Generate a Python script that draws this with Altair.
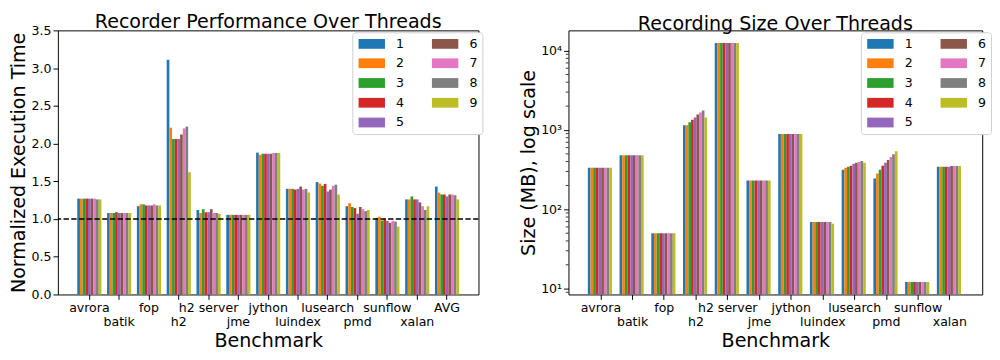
import altair as alt
import pandas as pd

threads = ["1", "2", "3", "4", "5", "6", "7", "8", "9"]
colors = ["#1f77b4", "#ff7f0e", "#2ca02c", "#d62728", "#9467bd",
          "#8c564b", "#e377c2", "#7f7f7f", "#bcbd22"]

bench_time = ["avrora", "batik", "fop", "h2", "h2 server", "jme", "jython",
              "luindex", "lusearch", "pmd", "sunflow", "xalan", "AVG"]
bench_size = ["avrora", "batik", "fop", "h2", "h2 server", "jme", "jython",
              "luindex", "lusearch", "pmd", "sunflow", "xalan"]

# Normalized execution time, threads 1..9
time_avrora = [1.27, 1.27, 1.27, 1.27, 1.27, 1.27, 1.27, 1.26, 1.26]
time_batik = [1.08, 1.08, 1.08, 1.09, 1.08, 1.08, 1.08, 1.08, 1.08]
time_fop = [1.17, 1.195, 1.195, 1.18, 1.18, 1.18, 1.195, 1.18, 1.18]
time_h2 = [3.11, 2.21, 2.06, 2.06, 2.06, 2.12, 2.20, 2.225, 1.62]
time_h2server = [1.12, 1.08, 1.13, 1.09, 1.09, 1.13, 1.08, 1.08, 1.07]
time_jme = [1.055, 1.055, 1.055, 1.055, 1.055, 1.055, 1.055, 1.055, 1.055]
time_jython = [1.88, 1.85, 1.865, 1.865, 1.865, 1.865, 1.875, 1.875, 1.875]
time_luindex = [1.40, 1.40, 1.40, 1.39, 1.40, 1.43, 1.39, 1.40, 1.35]
time_lusearch = [1.49, 1.47, 1.44, 1.465, 1.365, 1.39, 1.44, 1.455, 1.325]
time_pmd = [1.17, 1.21, 1.16, 1.145, 1.07, 1.16, 1.13, 1.105, 1.12]
time_sunflow = [1.015, 1.03, 0.98, 1.005, 0.975, 0.95, 0.975, 0.965, 0.90]
time_xalan = [1.26, 1.26, 1.30, 1.26, 1.26, 1.22, 1.17, 1.12, 1.17]
time_avg = [1.43, 1.35, 1.325, 1.325, 1.30, 1.325, 1.325, 1.315, 1.26]

# Recording size (MB), threads 1..9
size_avrora = [335, 335, 335, 335, 335, 335, 335, 335, 335]
size_batik = [480, 480, 480, 480, 480, 480, 480, 480, 480]
size_fop = [50, 50, 50, 50, 50, 50, 50, 50, 50]
size_h2 = [1150, 1150, 1250, 1350, 1440, 1570, 1660, 1760, 1440]
size_h2server = [12500, 12500, 12500, 12500, 12500, 12500, 12500, 12500, 12500]
size_jme = [230, 230, 230, 230, 230, 230, 230, 230, 230]
size_jython = [890, 890, 890, 890, 890, 890, 890, 890, 890]
size_luindex = [69, 69, 69, 69, 69, 69, 69, 69, 66]
size_lusearch = [316, 334, 344, 354, 374, 385, 396, 407, 385]
size_pmd = [245, 282, 316, 354, 385, 419, 456, 496, 539]
size_sunflow = [12.1, 12.1, 12.1, 12.1, 12.1, 12.1, 12.1, 12.1, 12.1]
size_xalan = [344, 344, 344, 344, 344, 352, 352, 352, 352]

time_ticks = [0.0, 0.5, 1.0, 1.5, 2.0, 2.5, 3.0, 3.5]
size_ticks = [10, 100, 1000, 10000]
size_minor = [9, 20, 30, 40, 50, 60, 70, 80, 90,
              200, 300, 400, 500, 600, 700, 800, 900,
              2000, 3000, 4000, 5000, 6000, 7000, 8000, 9000]
second_row = ["batik", "h2", "jme", "luindex", "pmd", "xalan"]
baseline = [1.0]

time_rows = [time_avrora, time_batik, time_fop, time_h2, time_h2server, time_jme,
             time_jython, time_luindex, time_lusearch, time_pmd, time_sunflow,
             time_xalan, time_avg]
size_rows = [size_avrora, size_batik, size_fop, size_h2, size_h2server, size_jme,
             size_jython, size_luindex, size_lusearch, size_pmd, size_sunflow,
             size_xalan]

time_df = pd.DataFrame([{"bench": b, "thread": t, "value": v}
                        for b, vals in zip(bench_time, time_rows)
                        for t, v in zip(threads, vals)])
size_df = pd.DataFrame([{"bench": b, "thread": t, "value": v}
                        for b, vals in zip(bench_size, size_rows)
                        for t, v in zip(threads, vals)])
minor_df = pd.DataFrame({"value": size_minor})
base_df = pd.DataFrame({"value": baseline})

FONT = "DejaVu Sans"
TICK_FS = 12.8
TITLE_FS = 19.5

color_scale = alt.Scale(domain=threads, range=colors)

label_expr = ("indexof(" + str(second_row) + ", datum.value) >= 0 ? "
              "['', datum.value] : datum.value")


def legend(x, y):
    return alt.Legend(
        title=None, orient="none", legendX=x, legendY=y, columns=2,
        symbolType="M-1,-1L4.4,-1L4.4,1L-1,1Z", symbolSize=100,
        symbolStrokeWidth=0, symbolOpacity=1,
        labelFontSize=TICK_FS, labelFont=FONT, labelColor="black",
        labelOffset=27, columnPadding=27, rowPadding=6.2, padding=5,
        strokeColor="#d0d0d0", cornerRadius=3, fillColor="white",
    )


def x_axis():
    return alt.Axis(
        title="Benchmark", labelAngle=0, labelExpr=label_expr,
        labelOverlap=False, labelBaseline="top", labelLineHeight=14.7,
        labelPadding=2, tickSize=5, tickColor="black", tickWidth=1,
        domain=False, labelFontSize=TICK_FS, labelColor="black",
        titleFontSize=TITLE_FS, titleFontWeight="normal", titleColor="black",
        titlePadding=4,
    )


time_axis = alt.Axis(title="Normalized Execution Time", values=time_ticks,
                     format=".1f", tickSize=5, tickColor="black", tickWidth=1,
                     domain=False, grid=False, labelFontSize=TICK_FS,
                     labelOverlap=False, labelColor="black", labelPadding=2,
                     titleFontSize=TITLE_FS, titleFontWeight="normal",
                     titleColor="black", titlePadding=3)
time_scale = alt.Scale(domain=[0, 3.5], nice=False, zero=True)
x_scale = alt.Scale(paddingInner=0.19, paddingOuter=0.65)

left_bars = alt.Chart(time_df).mark_bar().encode(
    x=alt.X("bench:N", sort=bench_time, scale=x_scale, axis=x_axis()),
    xOffset=alt.XOffset("thread:N", sort=threads,
                        scale=alt.Scale(paddingInner=0, paddingOuter=0)),
    y=alt.Y("value:Q", scale=time_scale, axis=time_axis),
    color=alt.Color("thread:N", scale=color_scale, legend=legend(301, 2)),
)
left_line = alt.Chart(base_df).mark_rule(
    color="black", strokeDash=[5.5, 2.4], strokeWidth=1.5
).encode(y=alt.Y("value:Q", scale=time_scale, axis=time_axis))

left = alt.layer(left_bars, left_line).properties(
    width=430, height=270,
    title=alt.TitleParams("Recorder Performance Over Threads", fontSize=TITLE_FS,
                          font=FONT, fontWeight="normal", color="black", offset=-8),
)

log_scale = alt.Scale(type="log", domain=[8.45, 18000], nice=False)
size_x_scale = alt.Scale(paddingInner=0.18, paddingOuter=0.61)
size_label_expr = ("datum.value == 10 ? '10\u00b9' : datum.value == 100 ? '10\u00b2' : "
                   "datum.value == 1000 ? '10\u00b3' : '10\u2074'")
size_axis = alt.Axis(title="Size (MB), log scale", values=size_ticks,
                     labelExpr=size_label_expr, tickSize=5, tickColor="black",
                     tickWidth=1, domain=False, grid=False, labelOverlap=False,
                     labelFontSize=TICK_FS, labelColor="black", labelPadding=2,
                     titleFontSize=TITLE_FS, titleFontWeight="normal",
                     titleColor="black", titlePadding=2)

right_bars = alt.Chart(size_df).mark_bar(clip=True).encode(
    x=alt.X("bench:N", sort=bench_size, scale=size_x_scale, axis=x_axis()),
    xOffset=alt.XOffset("thread:N", sort=threads,
                        scale=alt.Scale(paddingInner=0, paddingOuter=0)),
    y=alt.Y("value:Q", scale=log_scale, axis=size_axis),
    y2=alt.datum(8.45),
    color=alt.Color("thread:N", scale=color_scale, legend=legend(299, 2)),
)
right_minor = alt.Chart(minor_df).mark_rule(color="black", strokeWidth=0.8).encode(
    y=alt.Y("value:Q", scale=log_scale, axis=size_axis),
    x=alt.value(-2.8), x2=alt.value(0),
)
right = alt.layer(right_bars, right_minor).properties(
    width=423, height=270,
    title=alt.TitleParams("Recording Size Over Threads", fontSize=TITLE_FS,
                          font=FONT, fontWeight="normal", color="black", offset=-4),
)

chart = alt.hconcat(left, right, spacing=36).resolve_legend(
    color="independent"
).properties(
    padding={"left": 0, "top": 0, "right": 0, "bottom": 0}
).configure(font=FONT).configure_view(
    stroke="black", strokeWidth=1
).configure_axis(labelFont=FONT, titleFont=FONT)

chart.save("out.html", embed_options={"renderer": "svg", "actions": False})
